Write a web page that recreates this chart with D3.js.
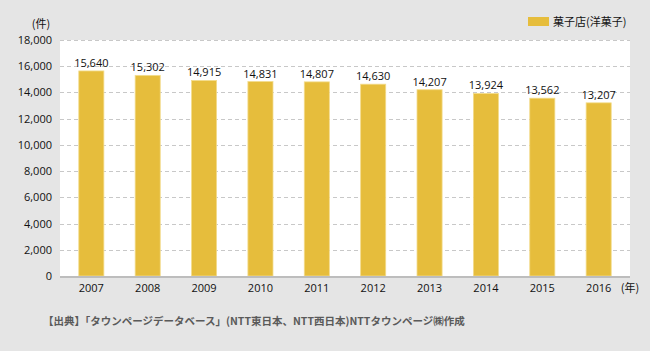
<!DOCTYPE html>
<html>
<head>
<meta charset="utf-8">
<script src="https://cdn.jsdelivr.net/npm/d3@7/dist/d3.min.js"></script>
<style>
  html, body { margin: 0; padding: 0; background: #e5e5e5; }
  svg { display: block; font-family: "Noto Sans CJK JP", "Noto Sans", sans-serif; }
</style>
</head>
<body>
<div id="chart"></div>
<script>
const years = ['2007', '2008', '2009', '2010', '2011', '2012', '2013', '2014', '2015', '2016'];
const shops = [15640, 15302, 14915, 14831, 14807, 14630, 14207, 13924, 13562, 13207];
const yTicks = [0, 2000, 4000, 6000, 8000, 10000, 12000, 14000, 16000, 18000];
const seriesName = '菓子店(洋菓子)';
const sourceNote = '【出典】「タウンページデータベース」(NTT東日本、NTT西日本)NTTタウンページ㈱作成';

const width = 650, height = 351;
const plot = { left: 60, right: 630, top: 40, bottom: 276 };
const barColor = '#e6bd3c';

const svg = d3.select('#chart').append('svg')
  .attr('width', width).attr('height', height);

svg.append('rect').attr('width', width).attr('height', height).attr('fill', '#e5e5e5');
svg.append('rect')
  .attr('x', plot.left).attr('y', plot.top)
  .attr('width', plot.right - plot.left).attr('height', plot.bottom - plot.top)
  .attr('fill', '#fff');

const x = d3.scaleBand().domain(years).range([63, 627]).paddingInner(0.555).paddingOuter(0.28);
const y = d3.scaleLinear().domain([0, 18000]).range([plot.bottom, plot.top]);

// gridlines
svg.append('g').selectAll('line').data(yTicks.filter(d => d > 0)).enter().append('line')
  .attr('x1', plot.left).attr('x2', plot.right)
  .attr('y1', d => Math.round(y(d)) + 0.5).attr('y2', d => Math.round(y(d)) + 0.5)
  .attr('stroke', '#c8c8c8').attr('stroke-dasharray', '4,3');

// y axis labels
const yAxis = d3.axisLeft(y).tickValues(yTicks).tickFormat(d3.format(',')).tickSize(0).tickPadding(8);
const yg = svg.append('g').attr('transform', `translate(${plot.left},0)`).call(yAxis);
yg.select('.domain').remove();
yg.selectAll('text').attr('font-size', 11).attr('fill', '#111')
  .attr('font-family', '"Open Sans", "Noto Sans", sans-serif');

// bars
svg.append('g').selectAll('rect').data(years).enter().append('rect')
  .attr('x', d => x(d))
  .attr('y', (d, i) => y(shops[i]))
  .attr('width', x.bandwidth())
  .attr('height', (d, i) => plot.bottom - y(shops[i]))
  .attr('fill', barColor)
  .attr('stroke', '#f3dc8c').attr('stroke-width', 0.8);

// value labels
svg.append('g').selectAll('text').data(years).enter().append('text')
  .attr('x', d => x(d) + x.bandwidth() / 2)
  .attr('y', (d, i) => y(shops[i]) - 4)
  .attr('text-anchor', 'middle')
  .attr('font-size', 11).attr('fill', '#111')
  .attr('font-family', '"Open Sans", "Noto Sans", sans-serif')
  .text((d, i) => d3.format(',')(shops[i]));

// baseline
svg.append('line')
  .attr('x1', plot.left).attr('x2', plot.right)
  .attr('y1', plot.bottom + 1).attr('y2', plot.bottom + 1)
  .attr('stroke', '#bdbdbd').attr('stroke-width', 2);

// x axis labels
const xAxis = d3.axisBottom(x).tickSize(0).tickPadding(8);
const xg = svg.append('g').attr('transform', `translate(0,${plot.bottom})`).call(xAxis);
xg.select('.domain').remove();
xg.selectAll('text').attr('font-size', 11).attr('fill', '#111')
  .attr('font-family', '"Open Sans", "Noto Sans", sans-serif');

// unit labels
svg.append('text').attr('x', 41).attr('y', 28).attr('text-anchor', 'middle')
  .attr('font-size', 11).attr('fill', '#111').text('(件)');
svg.append('text').attr('x', 630).attr('y', 292).attr('text-anchor', 'middle')
  .attr('font-size', 11).attr('fill', '#111').text('(年)');

// legend
svg.append('rect').attr('x', 528).attr('y', 17).attr('width', 21).attr('height', 9).attr('fill', barColor);
svg.append('text').attr('x', 553).attr('y', 26)
  .attr('font-size', 11).attr('fill', '#111').text(seriesName);

// source
svg.append('text').attr('x', 43).attr('y', 325)
  .attr('font-size', 10.5).attr('font-weight', 'bold').attr('fill', '#5a5a5a').text(sourceNote);
</script>
</body>
</html>
